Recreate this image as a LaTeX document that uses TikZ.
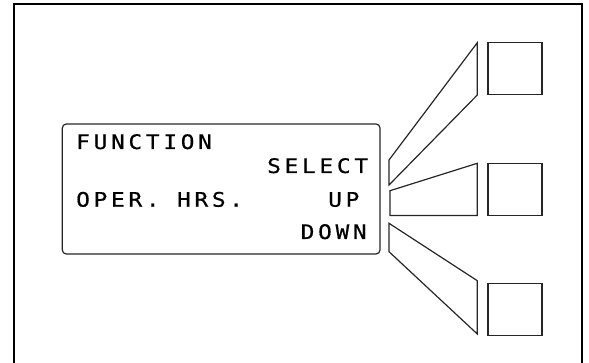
\documentclass[tikz,border=0pt]{standalone}
\usepackage{fontspec}
\newfontfamily\lcdfont[LetterSpace=18.5,FakeStretch=1.14,FakeBold=0.6]{DejaVu Sans Mono}
\begin{document}
\begin{tikzpicture}[x=1pt,y=-1pt,
  frame/.style={line width=2pt,black},
  part/.style={line width=1.2pt,black!85,line join=miter},
  keybox/.style={part,draw,minimum width=54pt,minimum height=52pt,inner sep=0pt,anchor=north west},
  lcdtext/.style={font=\lcdfont\fontsize{20}{20}\selectfont,inner sep=0pt,anchor=base west,text=black}]
\useasboundingbox (0,0) rectangle (589,363);
\clip (0,0) rectangle (589,363);
\draw[frame] (14,370) -- (14,4.2) -- (582.3,4.2) -- (582.3,370);
% LCD display
\draw[part,rounded corners=4pt] (62.3,124) rectangle (380,254);
\node[lcdtext] (t1) at (76,149) {FUNCTION};
\node[lcdtext] (t2) at (267,173) {SELECT};
\node[lcdtext] (t3) at (76,206.7) {OPER. HRS.};
\node[lcdtext] (t4) at (328,206.7) {UP};
\node[lcdtext] (t5) at (300.5,239) {DOWN};
% keys
\node[keybox] (k1) at (487.3,42.3) {};
\node[keybox] (k2) at (487.3,163.3) {};
\node[keybox] (k3) at (487.3,282.7) {};
% shafts
\draw[part] (389,160) -- (477.3,42.7) -- (477.3,95) -- (389,185) -- cycle;
\draw[part] (390,190.7) -- (477.3,163.3) -- (477.3,215.5) -- (390,215.5) -- cycle;
\draw[part] (389,223.3) -- (477.3,280.7) -- (477.3,334) -- (389,251.7) -- cycle;
\end{tikzpicture}
\end{document}
